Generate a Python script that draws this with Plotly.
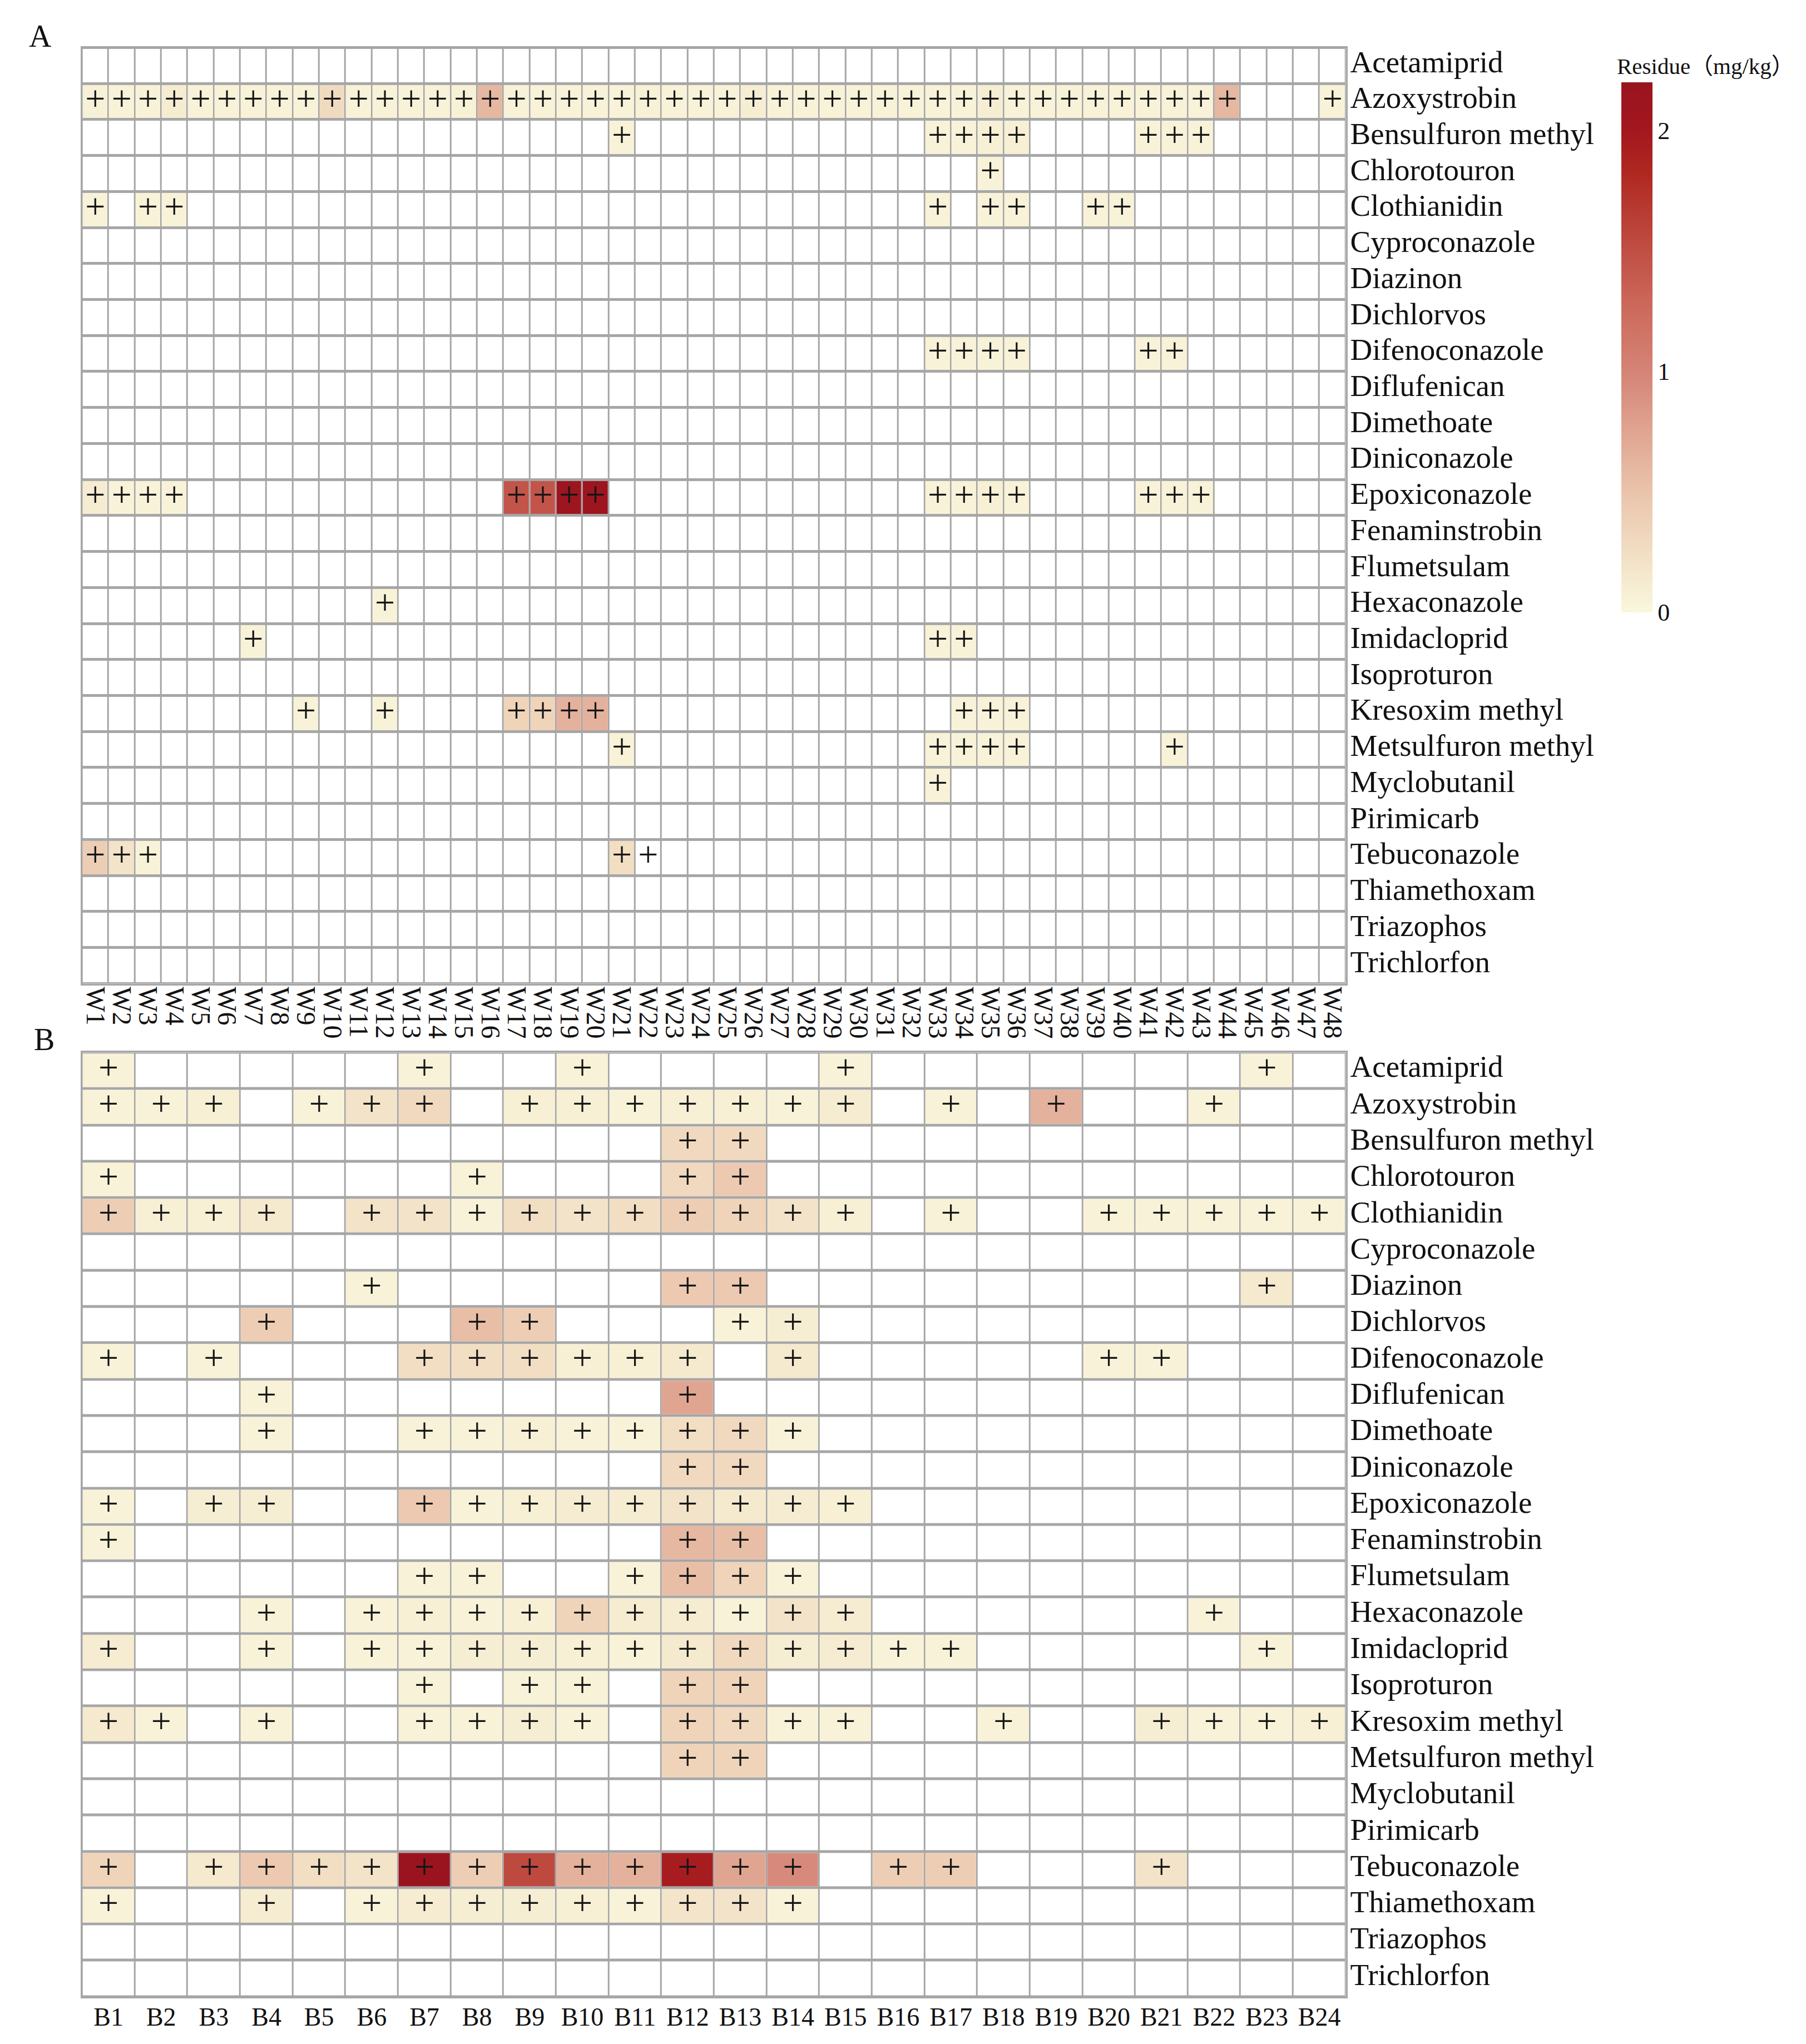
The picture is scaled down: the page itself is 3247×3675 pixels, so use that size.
import plotly.graph_objects as go

# ---------------- categories ----------------
compounds = ["Acetamiprid", "Azoxystrobin", "Bensulfuron methyl", "Chlorotouron", "Clothianidin",
             "Cyproconazole", "Diazinon", "Dichlorvos", "Difenoconazole", "Diflufenican",
             "Dimethoate", "Diniconazole", "Epoxiconazole", "Fenaminstrobin", "Flumetsulam",
             "Hexaconazole", "Imidacloprid", "Isoproturon", "Kresoxim methyl", "Metsulfuron methyl",
             "Myclobutanil", "Pirimicarb", "Tebuconazole", "Thiamethoxam", "Triazophos", "Trichlorfon"]

sites_a = ["W1", "W2", "W3", "W4", "W5", "W6", "W7", "W8", "W9", "W10", "W11", "W12", "W13", "W14",
           "W15", "W16", "W17", "W18", "W19", "W20", "W21", "W22", "W23", "W24", "W25", "W26", "W27",
           "W28", "W29", "W30", "W31", "W32", "W33", "W34", "W35", "W36", "W37", "W38", "W39", "W40",
           "W41", "W42", "W43", "W44", "W45", "W46", "W47", "W48"]

sites_b = ["B1", "B2", "B3", "B4", "B5", "B6", "B7", "B8", "B9", "B10", "B11", "B12", "B13", "B14",
           "B15", "B16", "B17", "B18", "B19", "B20", "B21", "B22", "B23", "B24"]

# ---------------- panel A detections (compound, site, residue mg/kg; None = detected, no colour) ----
a_compound = (["Azoxystrobin"] * 45 + ["Bensulfuron methyl"] * 8 + ["Chlorotouron"] * 1
              + ["Clothianidin"] * 8 + ["Difenoconazole"] * 6 + ["Epoxiconazole"] * 15
              + ["Hexaconazole"] * 1 + ["Imidacloprid"] * 3 + ["Kresoxim methyl"] * 9
              + ["Metsulfuron methyl"] * 6 + ["Myclobutanil"] * 1 + ["Tebuconazole"] * 5)
a_site = [
    # Azoxystrobin
    "W1", "W2", "W3", "W4", "W5", "W6", "W7", "W8", "W9", "W10", "W11", "W12", "W13", "W14", "W15",
    "W16", "W17", "W18", "W19", "W20", "W21", "W22", "W23", "W24", "W25", "W26", "W27", "W28", "W29",
    "W30", "W31", "W32", "W33", "W34", "W35", "W36", "W37", "W38", "W39", "W40", "W41", "W42", "W43",
    "W44", "W48",
    # Bensulfuron methyl
    "W21", "W33", "W34", "W35", "W36", "W41", "W42", "W43",
    # Chlorotouron
    "W35",
    # Clothianidin
    "W1", "W3", "W4", "W33", "W35", "W36", "W39", "W40",
    # Difenoconazole
    "W33", "W34", "W35", "W36", "W41", "W42",
    # Epoxiconazole
    "W1", "W2", "W3", "W4", "W17", "W18", "W19", "W20", "W33", "W34", "W35", "W36", "W41", "W42", "W43",
    # Hexaconazole
    "W12",
    # Imidacloprid
    "W7", "W33", "W34",
    # Kresoxim methyl
    "W9", "W12", "W17", "W18", "W19", "W20", "W34", "W35", "W36",
    # Metsulfuron methyl
    "W21", "W33", "W34", "W35", "W36", "W42",
    # Myclobutanil
    "W33",
    # Tebuconazole
    "W1", "W2", "W3", "W21", "W22",
]
a_residue = [
    # Azoxystrobin
    0.06, 0.05, 0.05, 0.12, 0.05, 0.05, 0.05, 0.05, 0.05, 0.28, 0.05, 0.05, 0.05, 0.05, 0.07,
    0.60, 0.05, 0.05, 0.05, 0.05, 0.05, 0.07, 0.05, 0.05, 0.05, 0.10, 0.05, 0.05, 0.05,
    0.05, 0.05, 0.05, 0.05, 0.05, 0.10, 0.05, 0.05, 0.05, 0.05, 0.05, 0.05, 0.05, 0.05,
    0.60, 0.05,
    # Bensulfuron methyl
    0.05, 0.05, 0.05, 0.08, 0.08, 0.05, 0.05, 0.05,
    # Chlorotouron
    0.05,
    # Clothianidin
    0.05, 0.05, 0.05, 0.05, 0.05, 0.05, 0.05, 0.05,
    # Difenoconazole
    0.05, 0.05, 0.05, 0.05, 0.05, 0.05,
    # Epoxiconazole
    0.12, 0.05, 0.05, 0.05, 1.45, 1.45, 2.15, 2.15, 0.05, 0.05, 0.08, 0.05, 0.05, 0.05, 0.05,
    # Hexaconazole
    0.05,
    # Imidacloprid
    0.05, 0.05, 0.05,
    # Kresoxim methyl
    0.05, 0.05, 0.35, 0.35, 0.65, 0.65, 0.05, 0.05, 0.05,
    # Metsulfuron methyl
    0.05, 0.05, 0.05, 0.05, 0.05, 0.05,
    # Myclobutanil
    0.05,
    # Tebuconazole
    0.40, 0.20, 0.05, 0.25, None,
]

# ---------------- panel B detections ----------------
b_compound = (["Acetamiprid"] * 5 + ["Azoxystrobin"] * 16 + ["Bensulfuron methyl"] * 2
              + ["Chlorotouron"] * 4 + ["Clothianidin"] * 20 + ["Diazinon"] * 4 + ["Dichlorvos"] * 5
              + ["Difenoconazole"] * 11 + ["Diflufenican"] * 2 + ["Dimethoate"] * 9
              + ["Diniconazole"] * 2 + ["Epoxiconazole"] * 12 + ["Fenaminstrobin"] * 3
              + ["Flumetsulam"] * 6 + ["Hexaconazole"] * 12 + ["Imidacloprid"] * 15
              + ["Isoproturon"] * 5 + ["Kresoxim methyl"] * 16 + ["Metsulfuron methyl"] * 2
              + ["Tebuconazole"] * 16 + ["Thiamethoxam"] * 11)
b_site = [
    # Acetamiprid
    "B1", "B7", "B10", "B15", "B23",
    # Azoxystrobin
    "B1", "B2", "B3", "B5", "B6", "B7", "B9", "B10", "B11", "B12", "B13", "B14", "B15", "B17", "B19", "B22",
    # Bensulfuron methyl
    "B12", "B13",
    # Chlorotouron
    "B1", "B8", "B12", "B13",
    # Clothianidin
    "B1", "B2", "B3", "B4", "B6", "B7", "B8", "B9", "B10", "B11", "B12", "B13", "B14", "B15", "B17",
    "B20", "B21", "B22", "B23", "B24",
    # Diazinon
    "B6", "B12", "B13", "B23",
    # Dichlorvos
    "B4", "B8", "B9", "B13", "B14",
    # Difenoconazole
    "B1", "B3", "B7", "B8", "B9", "B10", "B11", "B12", "B14", "B20", "B21",
    # Diflufenican
    "B4", "B12",
    # Dimethoate
    "B4", "B7", "B8", "B9", "B10", "B11", "B12", "B13", "B14",
    # Diniconazole
    "B12", "B13",
    # Epoxiconazole
    "B1", "B3", "B4", "B7", "B8", "B9", "B10", "B11", "B12", "B13", "B14", "B15",
    # Fenaminstrobin
    "B1", "B12", "B13",
    # Flumetsulam
    "B7", "B8", "B11", "B12", "B13", "B14",
    # Hexaconazole
    "B4", "B6", "B7", "B8", "B9", "B10", "B11", "B12", "B13", "B14", "B15", "B22",
    # Imidacloprid
    "B1", "B4", "B6", "B7", "B8", "B9", "B10", "B11", "B12", "B13", "B14", "B15", "B16", "B17", "B23",
    # Isoproturon
    "B7", "B9", "B10", "B12", "B13",
    # Kresoxim methyl
    "B1", "B2", "B4", "B7", "B8", "B9", "B10", "B12", "B13", "B14", "B15", "B18", "B21", "B22", "B23", "B24",
    # Metsulfuron methyl
    "B12", "B13",
    # Tebuconazole
    "B1", "B3", "B4", "B5", "B6", "B7", "B8", "B9", "B10", "B11", "B12", "B13", "B14", "B16", "B17", "B21",
    # Thiamethoxam
    "B1", "B4", "B6", "B7", "B8", "B9", "B10", "B11", "B12", "B13", "B14",
]
b_residue = [
    # Acetamiprid
    0.05, 0.05, 0.05, 0.05, 0.05,
    # Azoxystrobin
    0.05, 0.05, 0.08, 0.05, 0.20, 0.30, 0.08, 0.08, 0.05, 0.08, 0.08, 0.05, 0.12, 0.05, 0.65, 0.05,
    # Bensulfuron methyl
    0.30, 0.30,
    # Chlorotouron
    0.05, 0.05, 0.30, 0.45,
    # Clothianidin
    0.40, 0.08, 0.08, 0.15, 0.20, 0.20, 0.05, 0.25, 0.20, 0.25, 0.40, 0.35, 0.20, 0.08, 0.05,
    0.05, 0.05, 0.05, 0.05, 0.05,
    # Diazinon
    0.05, 0.45, 0.45, 0.15,
    # Dichlorvos
    0.40, 0.55, 0.40, 0.05, 0.10,
    # Difenoconazole
    0.05, 0.05, 0.25, 0.25, 0.25, 0.08, 0.08, 0.15, 0.15, 0.05, 0.05,
    # Diflufenican
    0.05, 0.75,
    # Dimethoate
    0.05, 0.05, 0.05, 0.08, 0.05, 0.05, 0.25, 0.30, 0.05,
    # Diniconazole
    0.30, 0.30,
    # Epoxiconazole
    0.05, 0.10, 0.10, 0.45, 0.05, 0.08, 0.12, 0.12, 0.20, 0.15, 0.12, 0.08,
    # Fenaminstrobin
    0.05, 0.60, 0.55,
    # Flumetsulam
    0.05, 0.05, 0.05, 0.55, 0.35, 0.05,
    # Hexaconazole
    0.05, 0.05, 0.08, 0.05, 0.08, 0.35, 0.12, 0.12, 0.05, 0.20, 0.12, 0.05,
    # Imidacloprid
    0.12, 0.05, 0.05, 0.05, 0.10, 0.10, 0.08, 0.05, 0.15, 0.30, 0.10, 0.12, 0.05, 0.05, 0.05,
    # Isoproturon
    0.05, 0.05, 0.05, 0.35, 0.35,
    # Kresoxim methyl
    0.15, 0.05, 0.05, 0.05, 0.05, 0.10, 0.05, 0.35, 0.30, 0.05, 0.05, 0.05, 0.10, 0.05, 0.05, 0.08,
    # Metsulfuron methyl
    0.35, 0.35,
    # Tebuconazole
    0.35, 0.15, 0.45, 0.25, 0.20, 2.20, 0.40, 1.55, 0.65, 0.65, 1.95, 0.75, 0.95, 0.40, 0.40, 0.20,
    # Thiamethoxam
    0.05, 0.12, 0.05, 0.12, 0.10, 0.10, 0.08, 0.05, 0.18, 0.20, 0.05,
]

# ---------------- styling ----------------
W, H = 3247, 3675
FONT = "Liberation Serif, Times New Roman, serif"
GRID = "#A6A6A6"
colorscale = [[0.0, "#F9F8DD"], [0.11, "#F2DFC4"], [0.23, "#EAC3AB"], [0.34, "#E0A591"],
              [0.45, "#D58577"], [0.59, "#CB6658"], [0.70, "#BE4A40"], [0.83, "#AF2820"],
              [0.91, "#A3171F"], [1.0, "#99141F"]]


def build_matrix(sites, comp_list, site_list, vals):
    z = [[None] * len(sites) for _ in compounds]
    for c, s, v in zip(comp_list, site_list, vals):
        if v is not None:
            z[compounds.index(c)][sites.index(s)] = v
    return z


assert len(a_compound) == len(a_site) == len(a_residue)
assert len(b_compound) == len(b_site) == len(b_residue)

za = build_matrix(sites_a, a_compound, a_site, a_residue)
zb = build_matrix(sites_b, b_compound, b_site, b_residue)

fig = go.Figure()


def add_panel(sites, z, comp_list, site_list, xa, ya):
    zero = [[0] * len(sites) for _ in compounds]
    fig.add_trace(go.Heatmap(z=zero, x=sites, y=compounds, colorscale=[[0, "white"], [1, "white"]],
                             showscale=False, xgap=3, ygap=5, hoverinfo="skip", xaxis=xa, yaxis=ya))
    fig.add_trace(go.Heatmap(z=z, x=sites, y=compounds, coloraxis="coloraxis",
                             xgap=3, ygap=5, xaxis=xa, yaxis=ya,
                             hovertemplate="%{y} %{x}: %{z}<extra></extra>"))
    fig.add_trace(go.Scatter(x=site_list, y=comp_list, mode="text", text=["+"] * len(site_list),
                             textfont=dict(family=FONT, size=64, color="#151515"),
                             textposition="middle center", showlegend=False, hoverinfo="skip",
                             xaxis=xa, yaxis=ya, cliponaxis=False))


add_panel(sites_a, za, a_compound, a_site, "x", "y")
add_panel(sites_b, zb, b_compound, b_site, "x2", "y2")

x_dom = [138 / W, 2414 / W]
common_x = dict(type="category", showgrid=False, zeroline=False, ticks="", showline=True,
                mirror=True, linecolor=GRID, linewidth=3, fixedrange=True, tickmode="array")
common_y = dict(type="category", showgrid=False, zeroline=False, ticks="", showline=True,
                mirror=True, linecolor=GRID, linewidth=3, side="right",
                range=[len(compounds) - 0.5, -0.5], autorange=False,
                categoryorder="array", categoryarray=compounds,
                tickmode="array", tickvals=compounds, ticktext=compounds,
                tickfont=dict(family=FONT, size=55, color="#111"), ticklabelstandoff=-6,
                ticklabelshift=8, fixedrange=True)

fig.update_layout(
    width=W, height=H, autosize=False,
    margin=dict(l=0, r=0, t=0, b=0),
    paper_bgcolor="white", plot_bgcolor=GRID,
    showlegend=False,
    font=dict(family=FONT, color="#111"),
    xaxis=dict(domain=x_dom, anchor="y", categoryorder="array", categoryarray=sites_a,
               tickvals=sites_a, ticktext=sites_a,
               range=[-0.5, len(sites_a) - 0.5], autorange=False,
               tickangle=90, tickfont=dict(family=FONT, size=48, color="#111"),
               ticklabelstandoff=-7, **common_x),
    yaxis=dict(domain=[1 - 1758 / H, 1 - 73 / H], anchor="x", **common_y),
    xaxis2=dict(domain=x_dom, anchor="y2", categoryorder="array", categoryarray=sites_b,
                tickvals=sites_b, ticktext=sites_b,
                range=[-0.5, len(sites_b) - 0.5], autorange=False,
                tickangle=0, tickfont=dict(family=FONT, size=46, color="#111"),
                ticklabelstandoff=-6, **common_x),
    yaxis2=dict(domain=[1 - 3582 / H, 1 - 1882 / H], anchor="x2", **common_y),
    coloraxis=dict(
        colorscale=colorscale, cmin=0, cmax=2.2,
        colorbar=dict(
            x=2910 / W, xanchor="left", xref="paper",
            y=1 - 612 / H, yanchor="middle", yref="paper",
            len=954 / H, lenmode="fraction",
            thickness=56, thicknessmode="pixels",
            outlinewidth=0, xpad=0, ypad=0,
            tickvals=[0, 1, 2], ticktext=["0", "1", "2"], ticks="",
            tickfont=dict(family=FONT, size=44, color="#111"),
        ),
    ),
    annotations=[
        dict(text="A", x=63 / W, y=1 - 52 / H, xref="paper", yref="paper", showarrow=False,
             xanchor="center", yanchor="middle", font=dict(family=FONT, size=56, color="#111")),
        dict(text="B", x=70 / W, y=1 - 1859 / H, xref="paper", yref="paper", showarrow=False,
             xanchor="center", yanchor="middle", font=dict(family=FONT, size=56, color="#111")),
        dict(text="Residue（mg/kg）", x=2900 / W, y=1 - 106 / H, xref="paper", yref="paper",
             showarrow=False, xanchor="left", yanchor="middle",
             font=dict(family=FONT + ", Noto Sans CJK SC", size=41, color="#111")),
    ],
)

fig.write_html("out.html")
